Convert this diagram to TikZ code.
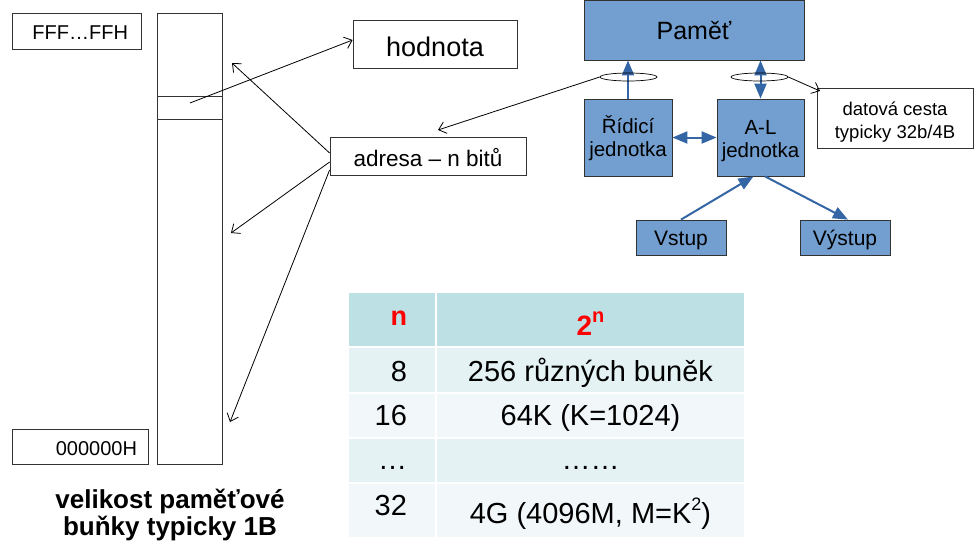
\documentclass[tikz,border=0pt]{standalone}
\usepackage{fontspec}
\setmainfont{Liberation Sans}
\usetikzlibrary{arrows.meta,shapes.geometric,calc}
\definecolor{pblue}{HTML}{729FCF}
\definecolor{ablue}{HTML}{3465A4}
\definecolor{thdr}{HTML}{BDE0E4}
\definecolor{trow}{HTML}{E5F2F4}
\definecolor{trowb}{HTML}{F2F8FA}
\definecolor{bord}{HTML}{333333}
\definecolor{tred}{HTML}{FF0000}
\newcommand\myfs[2]{\fontsize{#1pt}{#2pt}\selectfont}
\newcommand\txtat[2]{\raisebox{#1pt}[0pt][0pt]{#2}}
\newcommand\txtml[2]{\raisebox{#1pt}[0pt][0pt]{\begin{tabular}[t]{@{}c@{}}#2\end{tabular}}}
\newcommand\txtr[3]{\raisebox{#1pt}[0pt][0pt]{\makebox[#2pt][r]{#3}}}
\begin{document}
\begin{tikzpicture}[x=1pt,y=-1pt,
  wbox/.style={draw=bord, line width=0.8pt, fill=white, inner sep=0pt},
  bbox/.style={draw=bord, line width=0.8pt, fill=pblue, inner sep=0pt},
  barb/.style={draw=black, line width=0.8pt, -{Straight Barb[length=7pt,width=12pt]}},
  bone/.style={draw=ablue, line width=2pt, -{Triangle[length=15pt,width=12pt]}},
  btwo/.style={draw=ablue, line width=2pt, {Triangle[length=15pt,width=12pt]}-{Triangle[length=15pt,width=12pt]}},
  ell/.style={ellipse, draw=black, line width=0.7pt, inner sep=0pt},
  tc/.style={draw=white, line width=1.5pt, inner sep=0pt},
]
\useasboundingbox (0,0) rectangle (979,550);

% memory column
\node[wbox, minimum width=65pt, minimum height=451pt, anchor=north west] (mem) at (157,13) {};
\node[wbox, minimum width=65pt, minimum height=23pt, anchor=north west] (cell) at (157,96) {};
\coordinate (cellpt) at (190,103);

\node[wbox, minimum width=129pt, minimum height=36pt, font=\myfs{20}{24}] (fff) at (76.5,31) {\txtr{-8.3}{103}{FFF…FFH}};
\node[wbox, minimum width=136pt, minimum height=35pt, font=\myfs{20}{24}] (zero) at (80,446.5) {\txtr{-8.5}{114}{000000H}};

\node[inner sep=0pt, font=\myfs{26}{26}\bfseries] (cap) at (170,508) {\txtml{0}{velikost paměťové\\buňky typicky 1B}};

% value and address
\node[wbox, minimum width=164pt, minimum height=48pt, font=\myfs{27}{30}] (hod) at (435,44) {\txtat{-12.7}{hodnota}};
\node[wbox, minimum width=196pt, minimum height=38pt, font=\myfs{22.5}{26}] (adr) at (428,156) {\txtat{-10}{adresa – n bitů}};

\draw[barb] (cellpt) -- ([yshift=4pt]hod.west);
\coordinate (t1) at (232,63);
\coordinate (t2) at (231,233);
\coordinate (t3) at (230,422);
\draw[barb] ([yshift=3pt]adr.west) -- (t1);
\draw[barb] ([yshift=-6pt]adr.west) -- (t2);
\draw[barb] ([yshift=-14pt]adr.west) -- (t3);

% computer blocks
\node[bbox, minimum width=220pt, minimum height=60pt, font=\myfs{25}{28}] (pam) at (694,30) {\txtat{-9}{Paměť}};
\node[bbox, minimum width=88pt, minimum height=77pt, font=\myfs{20.5}{23}] (rid) at (628,137.5) {\txtml{3.8}{Řídicí\\jednotka}};
\node[bbox, minimum width=87pt, minimum height=77pt, font=\myfs{20.5}{23}] (al) at (760.5,137.5) {\txtml{3.5}{A-L\\jednotka}};
\node[wbox, minimum width=156pt, minimum height=60pt, font=\myfs{18.5}{23}] (dat) at (895,118) {\txtml{3}{datová cesta\\typicky 32b/4B}};
\node[bbox, minimum width=90pt, minimum height=35pt, font=\myfs{21}{24}] (vst) at (681,237.5) {\txtat{-7.5}{Vstup}};
\node[bbox, minimum width=90pt, minimum height=35pt, font=\myfs{21}{24}] (vys) at (845,237.5) {\txtat{-7.5}{Výstup}};

\draw[bone] (rid.north) -- (rid.north |- pam.south);
\draw[btwo] (al.north) -- (al.north |- pam.south);
\draw[btwo] (rid.east) -- (al.west);
\draw[bone] (vst.north) -- ([xshift=-7pt]al.south);
\draw[bone] ([xshift=4.5pt]al.south) -- ([xshift=3pt]vys.north);

\node[ell, minimum width=57pt, minimum height=8pt] (e1) at (628.5,77) {};
\node[ell, minimum width=57pt, minimum height=8pt] (e2) at (759.5,77) {};
\coordinate (t4) at (438,130);
\coordinate (t5) at (820,91);
\draw[barb] (e1.west) -- (t4);
\draw[barb] (e2.east) -- (t5);

% table
\node[tc, fill=thdr, minimum width=88pt, minimum height=55pt, font=\myfs{27}{30}\bfseries\color{tred}] (h1) at (392,319.5) {\txtr{-5.5}{30}{n}};
\node[tc, fill=thdr, minimum width=309pt, minimum height=55pt, font=\myfs{28}{30}\bfseries\color{tred}] (h2) at (590.5,319.5) {\txtat{-15.5}{2\raisebox{13pt}{\myfs{20}{20}n}}};
\node[tc, fill=trow, minimum width=88pt, minimum height=46pt, font=\myfs{29}{32}] (a1) at (392,370) {\txtr{-11}{30}{8}};
\node[tc, fill=trow, minimum width=309pt, minimum height=46pt, font=\myfs{29}{32}] (a2) at (590.5,370) {\txtat{-11}{256 různých buněk}};
\node[tc, fill=trowb, minimum width=88pt, minimum height=45pt, font=\myfs{29}{32}] (b1) at (392,415.5) {\txtr{-9.5}{30}{16}};
\node[tc, fill=trowb, minimum width=309pt, minimum height=45pt, font=\myfs{29}{32}] (b2) at (590.5,415.5) {\txtat{-9.5}{64K (K=1024)}};
\node[tc, fill=trow, minimum width=88pt, minimum height=45pt, font=\myfs{29}{32}] (c1) at (392,460.5) {\txtr{-8.5}{30}{…}};
\node[tc, fill=trow, minimum width=309pt, minimum height=45pt, font=\myfs{29}{32}] (c2) at (590.5,460.5) {\txtat{-8.5}{……}};
\node[tc, fill=trowb, minimum width=88pt, minimum height=55pt, font=\myfs{29}{32}] (d1) at (392,510.5) {\txtr{-4.5}{30}{32}};
\node[tc, fill=trowb, minimum width=309pt, minimum height=55pt, font=\myfs{29}{32}] (d2) at (590.5,510.5) {\txtat{-12.5}{4G (4096M, M=K\raisebox{13pt}{\myfs{18}{18}2})}};
\end{tikzpicture}
\end{document}
